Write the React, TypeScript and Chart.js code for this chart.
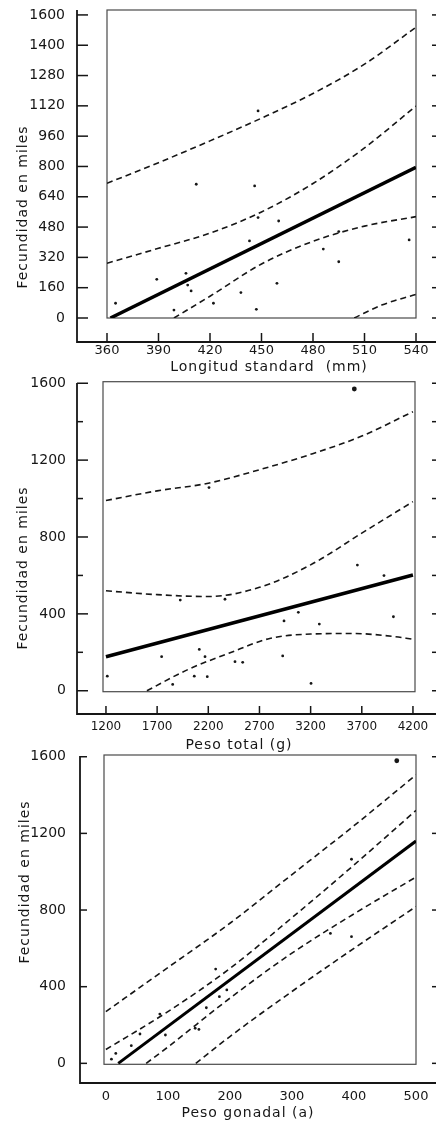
import { useEffect, useRef } from 'react';
import { Chart, registerables } from 'chart.js';

Chart.register(...registerables);

// ---------- Panel 1: Longitud standard ----------
const P1_X_TICKS = [360, 390, 420, 450, 480, 510, 540];
const P1_Y_TICKS = [0, 160, 320, 480, 640, 800, 960, 1120, 1280, 1440, 1600];
const P1_Y_LABELS = ['0', '160', '320', '480', '640', '800', '960', '1120', '1280', '1400', '1600'];
const P1_PTS_X = [365, 389, 399, 406, 407, 409, 412, 422, 438, 443, 446, 447, 448, 448, 459, 460, 486, 495, 495, 536];
const P1_PTS_Y = [78, 204, 42, 236, 174, 143, 706, 78, 134, 407, 697, 46, 530, 1093, 183, 512, 364, 297, 456, 412];
const P1_FIT_X = [362, 540];
const P1_FIT_Y = [0, 795];
const P1_CURVE_X = [360, 390, 420, 450, 480, 510, 540];
const P1_OUTER_UP = [711, 820, 935, 1055, 1185, 1340, 1535];
const P1_INNER_UP = [289, 368, 448, 560, 710, 898, 1119];
const P1_INNER_LO_X = [399, 420, 450, 480, 510, 540];
const P1_INNER_LO = [0, 115, 285, 405, 485, 535];
const P1_OUTER_LO_X = [504, 520, 540];
const P1_OUTER_LO = [0, 68, 125];

// ---------- Panel 2: Peso total ----------
const P2_X_TICKS = [1200, 1700, 2200, 2700, 3200, 3700, 4200];
const P2_Y_TICKS = [0, 400, 800, 1200, 1600];
const P2_Y_MINOR = [200, 600, 1000, 1400];
const P2_PTS_X = [1213, 1744, 1852, 1926, 2063, 2112, 2168, 2190, 2207, 2363, 2461, 2536, 2927, 2940, 3080, 3204, 3285, 3627, 3657, 3917, 4009];
const P2_PTS_Y = [76, 177, 33, 472, 76, 215, 177, 73, 1057, 476, 151, 148, 181, 363, 408, 38, 347, 1570, 654, 599, 385];
const P2_FIT_X = [1200, 4200];
const P2_FIT_Y = [177, 602];
const P2_CURVE_X = [1200, 1700, 2200, 2700, 3200, 3700, 4200];
const P2_OUTER_UP = [990, 1040, 1080, 1150, 1230, 1325, 1452];
const P2_INNER_UP = [520, 500, 490, 538, 655, 820, 984];
const P2_INNER_LO_X = [1600, 2000, 2400, 2800, 3200, 3600, 4000, 4200];
const P2_INNER_LO = [0, 110, 195, 272, 295, 298, 283, 268];

// ---------- Panel 3: Peso gonadal ----------
const P3_X_TICKS = [0, 100, 200, 300, 400, 500];
const P3_Y_TICKS = [0, 400, 800, 1200, 1600];
const P3_PTS_X = [9, 16, 41, 55, 87, 96, 144, 150, 162, 177, 183, 195, 362, 396, 396, 469];
const P3_PTS_Y = [22, 52, 92, 153, 257, 148, 183, 177, 290, 492, 348, 383, 678, 661, 1065, 1579];
const P3_FIT_X = [20, 500];
const P3_FIT_Y = [0, 1160];
const P3_CURVE_X = [0, 100, 200, 300, 400, 500];
const P3_OUTER_UP = [270, 500, 731, 985, 1240, 1505];
const P3_INNER_UP = [72, 270, 495, 760, 1035, 1320];
const P3_INNER_LO_X = [65, 100, 200, 300, 400, 500];
const P3_INNER_LO = [0, 85, 340, 575, 780, 972];
const P3_OUTER_LO_X = [145, 200, 300, 400, 500];
const P3_OUTER_LO = [0, 140, 375, 600, 818];

const Y_TITLE = 'Fecundidad en miles';

const pairs = (xs: number[], ys: number[]) => xs.map((x, i) => ({ x, y: ys[i] }));

const INK = '#161616';
const FONT = "'DejaVu Sans', sans-serif";

type Layout = {
  top: number; height: number;
  left: number; right: number; areaTop: number; areaBottom: number;
  xMin: number; xMax: number; yMin: number; yMax: number;
  xFont: number; xPad: number; yFont: number; yPad: number;
  axisX: number; axisTop: number; axisY: number;
  yTickLen: number; xTickLen: number;
  xTitleX: number; xTitleY: number; yTitleX: number; yTitleY: number;
  fitWidth: number;
};

type PanelDef = {
  layout: Layout;
  xTicks: number[]; yTicks: number[]; yLabels?: string[]; yMinor?: number[];
  xTitle: string;
  points: { x: number; y: number }[];
  fit: { x: number; y: number }[];
  curves: { x: number; y: number }[][];
};

const PANELS: PanelDef[] = [
  {
    layout: {
      top: 0, height: 380, left: 107, right: 416, areaTop: 10, areaBottom: 318,
      xMin: 360, xMax: 540, yMin: 0, yMax: 1626,
      xFont: 13, xPad: 25, yFont: 14, yPad: 42,
      axisX: 77, axisTop: 10, axisY: 342, yTickLen: 11, xTickLen: 9,
      xTitleX: 269, xTitleY: 367, yTitleX: 23, yTitleY: 207, fitWidth: 3.5,
    },
    xTicks: P1_X_TICKS, yTicks: P1_Y_TICKS, yLabels: P1_Y_LABELS,
    xTitle: 'Longitud standard  (mm)',
    points: pairs(P1_PTS_X, P1_PTS_Y),
    fit: pairs(P1_FIT_X, P1_FIT_Y),
    curves: [
      pairs(P1_CURVE_X, P1_OUTER_UP),
      pairs(P1_CURVE_X, P1_INNER_UP),
      pairs(P1_INNER_LO_X, P1_INNER_LO),
      pairs(P1_OUTER_LO_X, P1_OUTER_LO),
    ],
  },
  {
    layout: {
      top: 370, height: 390, left: 103, right: 415, areaTop: 11.7, areaBottom: 321.7,
      xMin: 1171, xMax: 4220, yMin: -5, yMax: 1608,
      xFont: 12, xPad: 28, yFont: 14, yPad: 37,
      axisX: 77, axisTop: 13, axisY: 344, yTickLen: 11, xTickLen: 8,
      xTitleX: 239, xTitleY: 375, yTitleX: 23, yTitleY: 198, fitWidth: 3.5,
    },
    xTicks: P2_X_TICKS, yTicks: P2_Y_TICKS, yMinor: P2_Y_MINOR,
    xTitle: 'Peso total (g)',
    points: pairs(P2_PTS_X, P2_PTS_Y),
    fit: pairs(P2_FIT_X, P2_FIT_Y),
    curves: [
      pairs(P2_CURVE_X, P2_OUTER_UP),
      pairs(P2_CURVE_X, P2_INNER_UP),
      pairs(P2_INNER_LO_X, P2_INNER_LO),
    ],
  },
  {
    layout: {
      top: 740, height: 387, left: 104, right: 416, areaTop: 15, areaBottom: 324.3,
      xMin: -3, xMax: 500, yMin: -5, yMax: 1609,
      xFont: 13, xPad: 25, yFont: 14, yPad: 38,
      axisX: 80, axisTop: 16, axisY: 343, yTickLen: 7, xTickLen: 0,
      xTitleX: 248, xTitleY: 373, yTitleX: 25, yTitleY: 142, fitWidth: 3,
    },
    xTicks: P3_X_TICKS, yTicks: P3_Y_TICKS,
    xTitle: 'Peso gonadal (a)',
    points: pairs(P3_PTS_X, P3_PTS_Y),
    fit: pairs(P3_FIT_X, P3_FIT_Y),
    curves: [
      pairs(P3_CURVE_X, P3_OUTER_UP),
      pairs(P3_CURVE_X, P3_INNER_UP),
      pairs(P3_INNER_LO_X, P3_INNER_LO),
      pairs(P3_OUTER_LO_X, P3_OUTER_LO),
    ],
  },
];

const framePlugin = {
  id: 'frame',
  beforeDatasetsDraw(chart: any, _args: any, o: any) {
    const { ctx, chartArea: a, scales } = chart;
    const xs = scales.x;
    const ys = scales.y;
    const W = chart.width;
    const L: Layout = o.layout;
    const line = (x1: number, y1: number, x2: number, y2: number) => {
      ctx.beginPath();
      ctx.moveTo(x1, y1);
      ctx.lineTo(x2, y2);
      ctx.stroke();
    };
    ctx.save();
    // inner frame
    ctx.strokeStyle = '#4a4a4a';
    ctx.lineWidth = 1.2;
    ctx.strokeRect(a.left, a.top, a.right - a.left, a.bottom - a.top);
    // outer axes (L shape)
    ctx.strokeStyle = INK;
    ctx.lineWidth = 1.8;
    ctx.beginPath();
    ctx.moveTo(L.axisX, L.axisTop);
    ctx.lineTo(L.axisX, L.axisY);
    ctx.lineTo(W, L.axisY);
    ctx.stroke();
    ctx.lineWidth = 1.5;
    for (const v of o.yTicks) {
      const py = ys.getPixelForValue(v);
      line(L.axisX, py, L.axisX + L.yTickLen, py);
      line(W - 4, py, W, py);
    }
    for (const v of o.yMinor || []) {
      const py = ys.getPixelForValue(v);
      line(L.axisX, py, L.axisX + 6, py);
      line(W - 4, py, W, py);
    }
    if (L.xTickLen > 0) {
      for (const v of o.xTicks) {
        const px = xs.getPixelForValue(v);
        line(px, L.axisY, px, L.axisY - L.xTickLen);
      }
    }
    // titles
    ctx.fillStyle = INK;
    ctx.font = `14px ${FONT}`;
    ctx.textAlign = 'center';
    ctx.textBaseline = 'middle';
    (ctx as any).letterSpacing = '1px';
    ctx.fillText(o.xTitle, L.xTitleX, L.xTitleY);
    ctx.translate(L.yTitleX, L.yTitleY);
    ctx.rotate(-Math.PI / 2);
    ctx.fillText(o.yTitle, 0, 0);
    ctx.restore();
  },
};

function Panel({ def }: { def: PanelDef }) {
  const ref = useRef<HTMLCanvasElement | null>(null);
  useEffect(() => {
    const L = def.layout;
    const W = 436;
    const dashed = def.curves.map((c) => ({
      data: c,
      showLine: true,
      borderColor: INK,
      borderWidth: 1.6,
      borderDash: [6, 4],
      pointRadius: 0,
      cubicInterpolationMode: 'monotone' as const,
      fill: false,
    }));
    const chart = new Chart(ref.current as HTMLCanvasElement, {
      type: 'scatter',
      data: {
        datasets: [
          {
            data: def.points,
            backgroundColor: INK,
            borderColor: INK,
            borderWidth: 0,
            pointRadius: (c: any) => (c.raw && c.raw.y > 1500 ? 2.4 : 1.4),
            showLine: false,
          },
          {
            data: def.fit,
            showLine: true,
            borderColor: '#000',
            borderWidth: L.fitWidth,
            pointRadius: 0,
          },
          ...dashed,
        ] as any,
      },
      options: {
        animation: false,
        responsive: false,
        devicePixelRatio: 1,
        layout: { padding: { top: L.areaTop, right: W - L.right, left: 0, bottom: 0 } },
        plugins: {
          legend: { display: false },
          tooltip: { enabled: false },
          frame: {
            layout: L,
            xTicks: def.xTicks,
            yTicks: def.yTicks,
            yMinor: def.yMinor,
            xTitle: def.xTitle,
            yTitle: Y_TITLE,
          },
        } as any,
        scales: {
          x: {
            type: 'linear',
            min: L.xMin,
            max: L.xMax,
            grid: { display: false, drawTicks: true, tickLength: L.xPad },
            border: { display: false },
            afterBuildTicks: (s: any) => {
              s.ticks = def.xTicks.map((value) => ({ value }));
            },
            afterFit: (s: any) => {
              s.height = L.height - L.areaBottom;
            },
            ticks: {
              autoSkip: false,
              maxRotation: 0,
              padding: 0,
              color: INK,
              font: { family: FONT, size: L.xFont },
              callback: (v: any) => String(v),
            },
          },
          y: {
            type: 'linear',
            min: L.yMin,
            max: L.yMax,
            grid: { display: false, drawTicks: true, tickLength: L.yPad },
            border: { display: false },
            afterBuildTicks: (s: any) => {
              s.ticks = def.yTicks.map((value) => ({ value }));
            },
            afterFit: (s: any) => {
              s.width = L.left;
            },
            ticks: {
              autoSkip: false,
              padding: 0,
              color: INK,
              font: { family: FONT, size: L.yFont },
              callback: (v: any, i: number) => (def.yLabels ? def.yLabels[i] : String(v)),
            },
          },
        },
      },
      plugins: [framePlugin as any],
    });
    return () => chart.destroy();
  }, [def]);
  const L = def.layout;
  return (
    <canvas
      ref={ref}
      width={436}
      height={L.height}
      style={{ position: 'absolute', left: 0, top: L.top, width: 436, height: L.height, display: 'block' }}
    />
  );
}

export default function App() {
  return (
    <div style={{ position: 'absolute', left: 0, top: 0, width: 436, height: 1127, background: '#fff', overflow: 'hidden' }}>
      {PANELS.map((p, i) => (
        <Panel key={i} def={p} />
      ))}
    </div>
  );
}
